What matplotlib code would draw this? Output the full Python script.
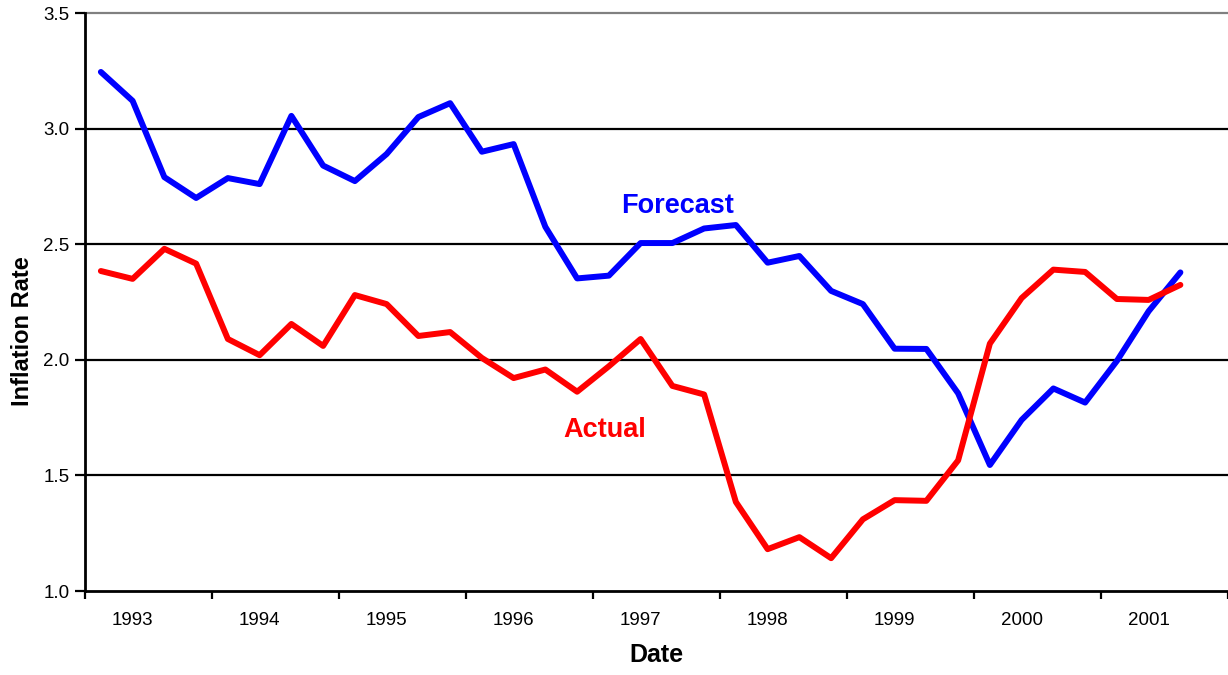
import matplotlib.pyplot as plt
import numpy as np

plt.rcParams['font.family'] = ['Liberation Sans', 'DejaVu Sans']

# quarterly inflation, 1993 - 2001
forecast = [3.245, 3.12, 2.79, 2.70, 2.786, 2.76, 3.055, 2.84, 2.773, 2.89,
            3.05, 3.11, 2.90, 2.933, 2.575, 2.352, 2.364, 2.505, 2.505, 2.568,
            2.583, 2.42, 2.449, 2.298, 2.241, 2.048, 2.047, 1.855, 1.545, 1.74,
            1.876, 1.815, 1.995, 2.21, 2.378]
actual = [2.384, 2.35, 2.48, 2.416, 2.09, 2.02, 2.155, 2.06, 2.28, 2.241,
          2.103, 2.12, 2.008, 1.921, 1.958, 1.862, 1.972, 2.09, 1.887, 1.85,
          1.385, 1.181, 1.233, 1.142, 1.31, 1.393, 1.39, 1.565, 2.07, 2.267,
          2.39, 2.38, 2.263, 2.259, 2.324]
years = ['1993', '1994', '1995', '1996', '1997', '1998', '1999', '2000', '2001']

fig = plt.figure(figsize=(12.28, 6.75), dpi=100)
ax = fig.add_axes([85 / 1228, 1 - 591 / 675, 1 - 85 / 1228, (591 - 13) / 675])

x = np.arange(len(forecast))
ax.plot(x, forecast, color='#0000ff', lw=4.3, solid_joinstyle='round', solid_capstyle='round', zorder=3)
ax.plot(x, actual, color='#ff0000', lw=4.3, solid_joinstyle='round', solid_capstyle='round', zorder=3)

ax.set_xlim(-0.5, 35.5)
ax.set_ylim(1.0, 3.5)

ax.set_yticks([1.0, 1.5, 2.0, 2.5, 3.0, 3.5])
ax.set_yticklabels(['1.0', '1.5', '2.0', '2.5', '3.0', '3.5'], fontsize=13.5)
for v in [1.5, 2.0, 2.5, 3.0]:
    ax.axhline(v, color='black', lw=1.6, zorder=1)
ax.axhline(3.5, color='#808080', lw=1.6, zorder=1, clip_on=False)

# year boundaries as major ticks, year names as minor labels
ax.set_xticks(np.arange(-0.5, 36, 4))
ax.set_xticklabels([])
ax.set_xticks(np.arange(1, 36, 4), minor=True)
ax.set_xticklabels(years, minor=True, fontsize=13.5)
ax.tick_params(axis='x', which='major', length=6, width=1.6, direction='out')
ax.tick_params(axis='x', which='minor', length=0, pad=15)
ax.tick_params(axis='y', length=7, width=1.6, direction='out', pad=4)

for s in ['top', 'right']:
    ax.spines[s].set_visible(False)
ax.spines['left'].set_linewidth(2)
ax.spines['bottom'].set_linewidth(2)

ax.set_xlabel('Date', fontsize=18, fontweight='bold', labelpad=10)
ax.set_ylabel('Inflation Rate', fontsize=17, fontweight='bold', va='center')
ax.yaxis.set_label_coords(-0.055, 0.45)

ax.text(18.15, 2.665, 'Forecast', color='#0000ff', fontsize=19.5, fontweight='bold', ha='center', va='center')
ax.text(15.88, 1.696, 'Actual', color='#ff0000', fontsize=19.5, fontweight='bold', ha='center', va='center')

fig.savefig('out.png', dpi=100)
